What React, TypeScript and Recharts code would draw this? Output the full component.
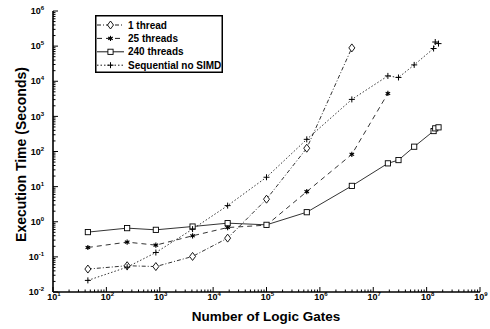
import React from 'react';
import { LineChart, Line, XAxis, YAxis } from 'recharts';

// Number of logic gates (x positions shared by all series)
const gates = [45, 245, 845, 4120, 18700, 100000, 568000, 3970000, 18800000, 29700000, 58500000, 135000000, 145000000, 167000000];

// Execution times (seconds)
const oneThread = [0.045, 0.056, 0.053, 0.103, 0.342, 4.39, 124, 89000];
const threads25 = [0.185, 0.263, 0.216, 0.398, 0.684, 0.8, 7.2, 83, 4500];
const threads240 = [0.507, 0.658, 0.589, 0.731, 0.912, 0.817, 1.87, 10.5, 46, 57, 137, 382, 456, 487];
const sequential = [0.0214, 0.051, 0.133, 0.617, 2.88, 18.5, 222, 3040, 14200, 12800, 29200, 85500, 131000, 118000];

// Axis tick exponents
const xExponents = [1, 2, 3, 4, 5, 6, 7, 8, 9];
const yExponents = [-2, -1, 0, 1, 2, 3, 4, 5, 6];
const minorMultipliers = [2, 3, 4, 5, 6, 7, 8, 9];

const buildTicks = (exps: number[]) => {
  const out: number[] = [];
  exps.forEach((e, i) => {
    out.push(Math.pow(10, e));
    if (i < exps.length - 1) minorMultipliers.forEach((m) => out.push(m * Math.pow(10, e)));
  });
  return out;
};
const xTicks = buildTicks(xExponents);
const yTicks = buildTicks(yExponents);

const toPoints = (vals: number[]) => vals.map((v, i) => ({ x: gates[i], y: v }));

const FONT = '"Liberation Sans", Arial, Helvetica, sans-serif';

type MarkerKind = 'diamond' | 'star' | 'square' | 'plus';

const Marker = ({ kind, cx, cy }: { kind: MarkerKind; cx: number; cy: number }) => {
  if (cx == null || cy == null || isNaN(cx) || isNaN(cy)) return <g />;
  switch (kind) {
    case 'diamond':
      return (
        <path
          d={`M${cx},${cy - 4}L${cx + 3},${cy}L${cx},${cy + 4}L${cx - 3},${cy}Z`}
          fill="#fff"
          stroke="#000"
          strokeWidth={0.9}
        />
      );
    case 'square':
      return <rect x={cx - 2.6} y={cy - 2.6} width={5.2} height={5.2} fill="#fff" stroke="#000" strokeWidth={0.9} />;
    case 'plus':
      return (
        <g stroke="#000" strokeWidth={1}>
          <line x1={cx - 3} x2={cx + 3} y1={cy} y2={cy} />
          <line x1={cx} x2={cx} y1={cy - 3} y2={cy + 3} />
        </g>
      );
    case 'star':
    default:
      return (
        <g stroke="#000" strokeWidth={1.1}>
          <line x1={cx} x2={cx} y1={cy - 2.6} y2={cy + 2.6} />
          <line x1={cx - 2.3} x2={cx + 2.3} y1={cy - 1.3} y2={cy + 1.3} />
          <line x1={cx - 2.3} x2={cx + 2.3} y1={cy + 1.3} y2={cy - 1.3} />
          <circle cx={cx} cy={cy} r={1.2} fill="#000" stroke="none" />
        </g>
      );
  }
};

const series = [
  { name: '1 thread', data: toPoints(oneThread), dash: '4 2 1 2', marker: 'diamond' as MarkerKind },
  { name: '25 threads', data: toPoints(threads25), dash: '5 4', marker: 'star' as MarkerKind },
  { name: '240 threads', data: toPoints(threads240), dash: undefined, marker: 'square' as MarkerKind },
  { name: 'Sequential no SIMD', data: toPoints(sequential), dash: '1.5 2', marker: 'plus' as MarkerKind },
];

const isMajor = (v: number) => {
  const e = Math.log10(v);
  return Math.abs(e - Math.round(e)) < 1e-9;
};

const XTick = (props: any) => {
  const { x, y, payload } = props;
  const v = payload.value;
  const major = isMajor(v);
  const e = Math.round(Math.log10(v));
  return (
    <g>
      <line x1={x} x2={x} y1={y} y2={y - (major ? 5 : 2.5)} stroke="#000" strokeWidth={1} />
      {major && (
        <text x={x + 1} y={y + 7.5} textAnchor="middle" fontFamily={FONT} fontWeight="bold" fontSize={9} fill="#000">
          10
          <tspan dy={-4} fontSize={6}>
            {e}
          </tspan>
        </text>
      )}
    </g>
  );
};

const YTick = (props: any) => {
  const { x, y, payload } = props;
  const v = payload.value;
  const major = isMajor(v);
  const e = Math.round(Math.log10(v));
  return (
    <g>
      <line x1={x} x2={x + (major ? 5 : 2.5)} y1={y} y2={y} stroke="#000" strokeWidth={1} />
      {major && (
        <text x={x - 9} y={y + 3.2} textAnchor="end" fontFamily={FONT} fontWeight="bold" fontSize={9} fill="#000">
          10
          <tspan dy={-4} fontSize={6}>
            {e}
          </tspan>
        </text>
      )}
    </g>
  );
};

const LegendBox = () => (
  <svg
    width={128}
    height={58}
    style={{ position: 'absolute', left: 95, top: 15 }}
  >
    <rect x={0.75} y={0.75} width={126.5} height={56.5} fill="#fff" stroke="#000" strokeWidth={1.5} />
    {series.map((s, i) => {
      const cy = 10 + i * 13.4;
      return (
        <g key={s.name}>
          <line x1={2} x2={29} y1={cy} y2={cy} stroke="#000" strokeWidth={0.9} strokeDasharray={s.dash} />
          <Marker kind={s.marker} cx={15.5} cy={cy} />
          <text x={33} y={cy + 3.6} fontFamily={FONT} fontWeight="bold" fontSize={10} fill="#000">
            {s.name}
          </text>
        </g>
      );
    })}
  </svg>
);

export default function App() {
  return (
    <div style={{ position: 'absolute', left: 0, top: 0, width: 490, height: 329, background: '#fff' }}>
      <LineChart width={490} height={329} margin={{ top: 11, right: 10, bottom: 0, left: 0 }}>
        <XAxis
          dataKey="x"
          type="number"
          scale="log"
          domain={[10, 1e9]}
          ticks={xTicks}
          interval={0}
          allowDataOverflow
          height={37}
          tickSize={0}
          tickMargin={0}
          tickLine={false}
          axisLine={{ stroke: '#000', strokeWidth: 1.6 }}
          tick={<XTick />}
        />
        <YAxis
          dataKey="y"
          type="number"
          scale="log"
          domain={[0.01, 1e6]}
          ticks={yTicks}
          interval={0}
          allowDataOverflow
          width={53}
          tickSize={0}
          tickMargin={0}
          tickLine={false}
          axisLine={{ stroke: '#000', strokeWidth: 1.6 }}
          tick={<YTick />}
        />
        {series.map((s) => (
          <Line
            key={s.name}
            name={s.name}
            data={s.data}
            dataKey="y"
            type="linear"
            stroke="#000"
            strokeWidth={0.8}
            strokeDasharray={s.dash}
            isAnimationActive={false}
            activeDot={false}
            dot={(p: any) => <Marker key={`${s.name}-${p.index}`} kind={s.marker} cx={p.cx} cy={p.cy} />}
          />
        ))}
        <text
          transform="translate(26,154.5) rotate(-90)"
          textAnchor="middle"
          fontFamily={FONT}
          fontWeight="bold"
          fontSize={14}
          fill="#000"
        >
          Execution Time (Seconds)
        </text>
        <text x={266} y={321} textAnchor="middle" fontFamily={FONT} fontWeight="bold" fontSize={13.5} fill="#000">
          Number of Logic Gates
        </text>
      </LineChart>
      <LegendBox />
    </div>
  );
}
